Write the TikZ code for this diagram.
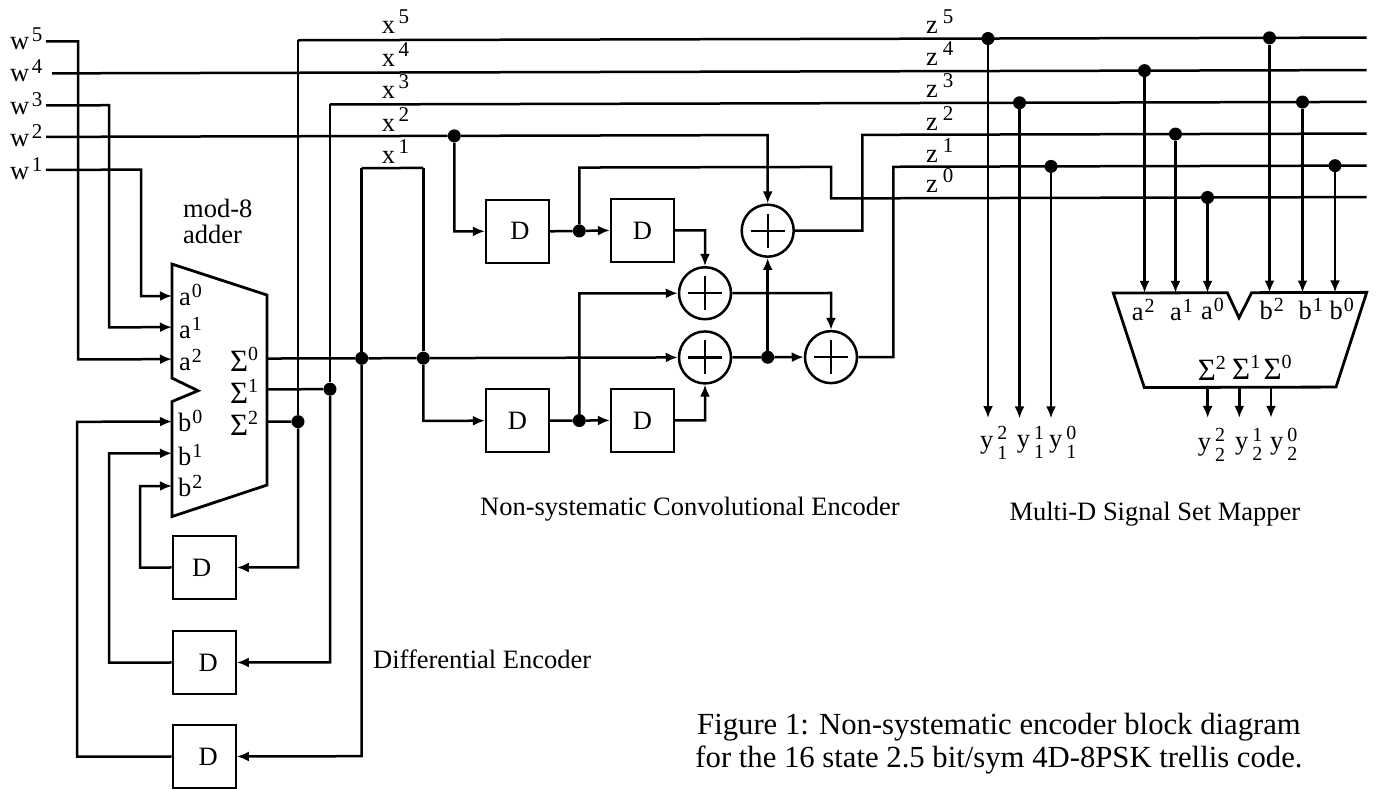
\documentclass[tikz,border=0pt]{standalone}
\usepackage{fontspec}
\setmainfont{Liberation Serif}
\usetikzlibrary{arrows.meta, positioning}
\newcommand{\suplab}[3][3.5pt]{#2\kern#1\raisebox{10pt}{\fontsize{21}{21}\selectfont #3}}
\newcommand{\wlab}[1]{w\kern2.5pt\raisebox{8pt}{\fontsize{21}{21}\selectfont #1}}
\newcommand{\inlab}[2]{#1\kern1pt\raisebox{8pt}{\fontsize{20}{20}\selectfont #2}}
\newcommand{\sumlab}[1]{{\fontsize{31}{31}\selectfont\char"03A3}\raisebox{11pt}{\fontsize{20}{20}\selectfont #1}}
\newcommand{\outlab}[2]{y\kern4pt\rlap{\raisebox{8.5pt}{\fontsize{20}{20}\selectfont #1}}\raisebox{-11pt}{\fontsize{20}{20}\selectfont #2}}
\tikzset{
    wire/.style={line width=2.5pt},
    arrowed/.style={wire, -{Latex[length=12pt,width=10pt]}},
    dbox/.style={draw, minimum size=63pt, inner sep=0pt, line width=2.2pt, font=\fontsize{26.5}{28}\selectfont},
    junc/.style={circle, fill=black, minimum size=13pt, inner sep=0pt},
    addbox/.style={circle, draw, minimum size=52pt, inner sep=0pt, line width=2.5pt,
        path picture={
            \draw[line width=2.2pt] ([xshift=-17pt]path picture bounding box.center) -- ([xshift=17pt]path picture bounding box.center);
            \draw[line width=2.2pt] ([yshift=-17pt]path picture bounding box.center) -- ([yshift=17pt]path picture bounding box.center);
        }},
    lab/.style={anchor=base west, inner sep=0pt, font=\fontsize{26.5}{26.7}\selectfont},
}
\begin{document}
\begin{tikzpicture}[x=1pt, y=-1pt]
\useasboundingbox (0,0) rectangle (1377,790);
\begin{scope}[yslant=0.0025]
% inputs
\node[lab] (lw5) at (10,49.5) {\wlab{5}};
\node[lab] (lw4) at (10,82) {\wlab{4}};
\node[lab] (lw3) at (10,114.5) {\wlab{3}};
\node[lab] (lw2) at (10,147) {\wlab{2}};
\node[lab] (lw1) at (10,179.5) {\wlab{1}};
\coordinate (w5s) at (46,41.5);
\coordinate (w4s) at (52,73.5);
\coordinate (w3s) at (46,105.5);
\coordinate (w2s) at (46,137);
\coordinate (w1s) at (46,170);
% mod-8 adder
\node[lab, anchor=west, align=left] (ladd) at (183,222) {mod-8\\adder};
\draw[wire, line width=2.8pt, line join=miter] (172,264.5) -- (267,295.7) -- (267,485.7) -- (172,517) -- (172,402) -- (198,391.2) -- (172,378.5) -- cycle;
\coordinate (ina0) at (172,296.4);
\coordinate (ina1) at (172,327.6);
\coordinate (ina2) at (172,359.6);
\coordinate (inb0) at (172,422);
\coordinate (inb1) at (172,453.7);
\coordinate (inb2) at (172,486.4);
\node[lab] (la0) at (179,305.5) {\inlab{a}{0}};
\node[lab] (la1) at (179,338.5) {\inlab{a}{1}};
\node[lab] (la2) at (179,370.5) {\inlab{a}{2}};
\node[lab] (lb0) at (178,432) {\inlab{b}{0}};
\node[lab] (lb1) at (178,465.5) {\inlab{b}{1}};
\node[lab] (lb2) at (178,497) {\inlab{b}{2}};
\node[lab] (ls0) at (230,372.5) {\sumlab{0}};
\node[lab] (ls1) at (230,404.5) {\sumlab{1}};
\node[lab] (ls2) at (230,436.5) {\sumlab{2}};
\coordinate (outs0) at (267,359.2);
\coordinate (outs1) at (267,390);
\coordinate (outs2) at (267,422.4);
\draw[arrowed] (w1s) -- ++(95,0) |- (ina0);
\draw[arrowed] (w3s) -- ++(63,0) |- (ina1);
\draw[arrowed] (w5s) -- ++(32,0) |- (ina2);
% differential encoder
\node[dbox] (da) at (204.2,568) {\hspace{-5pt}D};
\node[dbox] (db) at (204.2,663) {\hspace{8pt}D};
\node[dbox] (dc) at (204.2,757) {\hspace{8pt}D};
\node[junc] (js2) at (298,422.4) {};
\node[junc] (js1) at (330,390) {};
\node[junc] (js0) at (361.7,359.2) {};
\coordinate (xfive) at (298,41);
\coordinate (xthree) at (330,105.3);
\coordinate (xoneL) at (361.7,169);
\coordinate (xoneR) at (423.3,169);
\draw[wire] (xfive) -- (js2);
\draw[wire] (xthree) -- (js1);
\draw[wire] (xoneL) -- (js0);
\draw[arrowed] (js2) |- (da.east);
\draw[arrowed] (js1) |- (db.east);
\draw[arrowed] (js0) |- (dc.east);
\draw[arrowed] (da.west) -- ++(-31.5,0) |- (inb2);
\draw[arrowed] (db.west) -- ++(-62.5,0) |- (inb1);
\draw[arrowed] (dc.west) -- ++(-94.5,0) |- (inb0);
\draw[wire] (outs1) -- (js1);
\draw[wire] (outs2) -- (js2);
\node[lab] (ldiff) at (373,669) {Differential Encoder};
% rows
\coordinate (rowfive) at (1366.5,41);
\coordinate (rowfour) at (1366.5,73.5);
\coordinate (rowthree) at (1366.5,105.3);
\coordinate (rowtwo) at (1366.5,137);
\coordinate (rowone) at (1366.5,169);
\coordinate (rowzero) at (1366.5,200.5);
\draw[wire] (xfive) -- (rowfive);
\draw[wire] (w4s) -- (rowfour);
\draw[wire] (xthree) -- (rowthree);
\draw[wire] (xoneL) -- (xoneR);
\node[lab] (lx5) at (381.7,34) {\suplab{x}{5}};
\node[lab] (lx4) at (381.7,67.7) {\suplab{x}{4}};
\node[lab] (lx3) at (381.7,99.3) {\suplab{x}{3}};
\node[lab] (lx2) at (381.7,132.7) {\suplab{x}{2}};
\node[lab] (lx1) at (381.7,164.3) {\suplab{x}{1}};
% convolutional encoder
\node[dbox] (ea) at (517.5,232.6) {\hspace{5pt}\raisebox{-4pt}{D}};
\node[dbox] (eb) at (642.5,232) {\raisebox{-4pt}{D}};
\node[dbox] (ec) at (517.5,422) {\raisebox{-4pt}{D}};
\node[dbox] (ed) at (642.5,422) {\raisebox{-4pt}{D}};
\node[addbox] (adda) at (705,295) {};
\node[addbox] (addb) at (705,359.2) {};
\node[addbox] (addc) at (767.7,232.6) {};
\node[addbox] (addd) at (831,359.2) {};
\node[junc] (jxtwo) at (454.3,137) {};
\node[junc] (jxone) at (423.3,359.2) {};
\node[junc] (jea) at (579.3,232.4) {};
\node[junc] (jec) at (579.3,422) {};
\node[junc] (jadd) at (767.7,359.2) {};
\coordinate (zzA) at (579.3,169);
\coordinate (zzB) at (831,169);
\coordinate (zzC) at (831,200.5);
\coordinate (ztwoB) at (862.3,137);
\coordinate (zoneB) at (893.3,169);
\draw[wire] (w2s) -- (jxtwo);
\draw[arrowed] (jxtwo) -| (addc.north);
\draw[arrowed] (jxtwo) |- (ea.west);
\draw[wire] (ea.east) -- (jea);
\draw[arrowed] (jea) -- (eb.west);
\draw[wire] (jea) -- (zzA) -- (zzB) -- (zzC) -- (rowzero);
\draw[arrowed] (eb.east) -| (adda.north);
\draw[wire] (outs0) -- (js0) -- (jxone);
\draw[wire] (xoneR) -- (jxone);
\draw[arrowed] (jxone) -- (addb.west);
\draw[arrowed] (jxone) |- (ec.west);
\draw[wire] (ec.east) -- (jec);
\draw[arrowed] (jec) -- (ed.west);
\draw[arrowed] (jec) |- (adda.west);
\draw[arrowed] (ed.east) -| (addb.south);
\draw[arrowed] (adda.east) -| (addd.north);
\draw[wire] (addb.east) -- (jadd);
\draw[arrowed] (jadd) -- (addd.west);
\draw[arrowed] (jadd) -- (addc.south);
\draw[wire] (addc.east) -| (ztwoB) -- (rowtwo);
\draw[wire] (addd.east) -| (zoneB) -- (rowone);
\node[lab] (lconv) at (480,517) {Non-systematic Convolutional Encoder};
\node[lab] (lz5) at (926,36.3) {\suplab[5pt]{z}{5}};
\node[lab] (lz4) at (926,68) {\suplab[5pt]{z}{4}};
\node[lab] (lz3) at (926,99.6) {\suplab[5pt]{z}{3}};
\node[lab] (lz2) at (926,133) {\suplab[5pt]{z}{2}};
\node[lab] (lz1) at (926,165) {\suplab[5pt]{z}{1}};
\node[lab] (lz0) at (926,195) {\suplab[5pt]{z}{0}};
% direct outputs
\node[junc] (jya) at (988,41) {};
\node[junc] (jyb) at (1019.5,105.3) {};
\node[junc] (jyc) at (1051,169) {};
\coordinate (yoa) at (988,420.5);
\coordinate (yob) at (1019.5,421);
\coordinate (yoc) at (1051,421);
\draw[arrowed] (jya) -- (yoa);
\draw[arrowed] (jyb) -- (yob);
\draw[arrowed] (jyc) -- (yoc);
\node[lab] (lya) at (980,450.5) {\outlab{2}{1}};
\node[lab] (lyb) at (1016.7,450.5) {\outlab{1}{1}};
\node[lab] (lyc) at (1049,450.5) {\outlab{0}{1}};
% signal set mapper
\draw[wire, line width=2.8pt, line join=miter] (1113.3,295.8) -- (1227.3,295.8) -- (1239,320.8) -- (1251.7,295.8) -- (1366.7,295.8) -- (1336,390.4) -- (1144.3,390.4) -- cycle;
\node[junc] (jma) at (1144.5,73.5) {};
\node[junc] (jmb) at (1175.5,137) {};
\node[junc] (jmc) at (1207.5,200.5) {};
\node[junc] (jmd) at (1269.5,41) {};
\node[junc] (jme) at (1302.5,105.3) {};
\node[junc] (jmf) at (1335,169) {};
\coordinate (ima) at (1144.5,295.8);
\coordinate (imb) at (1175.5,295.8);
\coordinate (imc) at (1207.5,295.8);
\coordinate (imd) at (1269.5,295.8);
\coordinate (ime) at (1302.5,295.8);
\coordinate (imf) at (1335,295.8);
\draw[arrowed] (jma) -- (ima);
\draw[arrowed] (jmb) -- (imb);
\draw[arrowed] (jmc) -- (imc);
\draw[arrowed] (jmd) -- (imd);
\draw[arrowed] (jme) -- (ime);
\draw[arrowed] (jmf) -- (imf);
\node[lab] (lma2) at (1131.7,323) {\inlab{a}{2}};
\node[lab] (lma1) at (1170,323) {\inlab{a}{1}};
\node[lab] (lma0) at (1201,323) {\inlab{a}{0}};
\node[lab] (lmb2) at (1259.3,323) {\inlab{b}{2}};
\node[lab] (lmb1) at (1298.3,323) {\inlab{b}{1}};
\node[lab] (lmb0) at (1329.3,323) {\inlab{b}{0}};
\node[lab] (lm2) at (1197.7,383) {\sumlab{2}};
\node[lab] (lm1) at (1232,383) {\sumlab{1}};
\node[lab] (lm0) at (1263.3,383) {\sumlab{0}};
\coordinate (oma) at (1207.7,390.4);
\coordinate (omb) at (1239.3,390.4);
\coordinate (omc) at (1271,390.4);
\coordinate (yod) at (1207.7,421);
\coordinate (yoe) at (1239.3,421);
\coordinate (yof) at (1271,421);
\draw[arrowed] (oma) -- (yod);
\draw[arrowed] (omb) -- (yoe);
\draw[arrowed] (omc) -- (yof);
\node[lab] (lyd) at (1197.7,453) {\outlab{2}{2}};
\node[lab] (lye) at (1235,453) {\outlab{1}{2}};
\node[lab] (lyf) at (1270,453) {\outlab{0}{2}};
\node[lab] (lmap) at (1009.3,523.3) {Multi-D Signal Set Mapper};
% caption
\node[lab, anchor=center, align=center, font=\fontsize{30.7}{33}\selectfont] (lcap) at (999,746.4) {Figure 1: Non-systematic encoder block diagram\\for the 16 state 2.5 bit/sym 4D-8PSK trellis code.};
\end{scope}
\end{tikzpicture}
\end{document}
